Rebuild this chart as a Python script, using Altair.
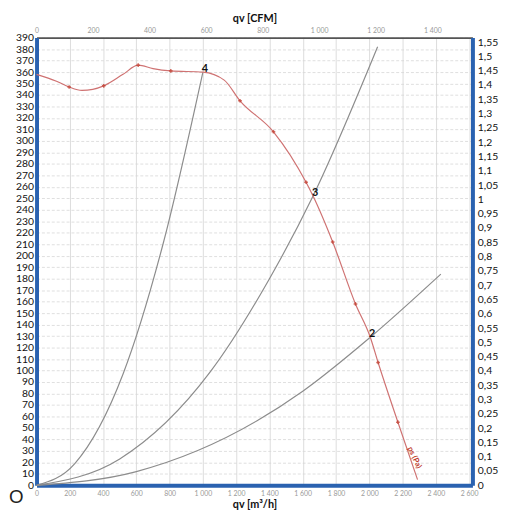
import altair as alt
import pandas as pd

# ---- data ----
# fan curve ps (Pa) vs qv (m3/h)
fan_q = [0, 120, 196, 273, 404, 520, 611, 700, 807, 1000, 1128, 1223, 1424, 1620, 1662, 1780, 1917, 2006, 2053, 2172, 2290]
fan_p = [358, 352, 347, 344, 348, 358, 366, 363, 361, 360, 353, 335, 308, 264, 252, 212, 158, 129, 107, 55, 5]
# measured markers on the fan curve
mark_q = [196, 404, 611, 807, 1223, 1424, 1620, 1780, 1917, 2053, 2172]
mark_p = [347, 348, 366, 361, 335, 308, 264, 212, 158, 107, 55]
# system curves
sys4_q = [0, 230, 520, 760, 1000]
sys4_p = [0, 19, 97, 210, 360]
sys3_q = [0, 500, 1045, 1400, 1662, 2050]
sys3_p = [0, 23, 99, 180, 252, 382]
sys2_q = [0, 600, 1323, 1600, 2006, 2430]
sys2_p = [0, 12, 56, 82, 129, 184]
# operating points
op_label = ["4", "3", "2"]
op_q = [1000, 1662, 2006]
op_p = [360, 252, 129]
# axes
x_ticks = list(range(0, 2601, 200))
y_ticks = list(range(0, 391, 10))
cfm_ticks = list(range(0, 1401, 200))
inwc_ticks = [round(i * 0.05, 2) for i in range(0, 32)]

X_MAX = 2620
Y_MAX = 390
W, H = 443, 455
BLUE = "#2a62b0"
FONT = "Lato"

fan_df = pd.DataFrame({"q": fan_q, "p": fan_p})
mark_df = pd.DataFrame({"q": mark_q, "p": mark_p})
sys_df = pd.concat([
    pd.DataFrame({"q": sys4_q, "p": sys4_p, "c": "4"}),
    pd.DataFrame({"q": sys3_q, "p": sys3_p, "c": "3"}),
    pd.DataFrame({"q": sys2_q, "p": sys2_p, "c": "2"}),
])
op_df = pd.DataFrame({"label": op_label, "q": op_q, "p": op_p})

xs = alt.Scale(domain=[0, X_MAX], nice=False, zero=False)
ys = alt.Scale(domain=[0, Y_MAX], nice=False, zero=False)

x_axis = alt.Axis(
    orient="bottom", values=x_ticks, title="qv [m³/h]",
    labelExpr="replace(format(datum.value, ','), ',', ' ')",
    labelFontSize=7, labelColor="#9a9a9a", labelPadding=4, labelFlush=False,
    labelOverlap=False,
    ticks=False, domainColor=BLUE, domainWidth=4,
    grid=True, gridColor="#d4d4d4", gridWidth=0.8,
    titleFontSize=11, titleFontWeight="bold", titleColor="#111", titlePadding=3,
    titleFont=FONT, labelFont=FONT)
y_axis = alt.Axis(
    orient="left", values=y_ticks, title=None,
    labelFontSize=10.5, labelColor="#111", labelPadding=3, labelOverlap=False,
    ticks=False, domainColor=BLUE, domainWidth=4, labelFont=FONT,
    grid=True, gridColor="#d6d6d6", gridDash=[3, 2], gridWidth=0.8)

X = alt.X("q:Q", scale=xs, axis=x_axis)
Y = alt.Y("p:Q", scale=ys, axis=y_axis)

sys_lines = alt.Chart(sys_df).mark_line(color="#8c8c8c", strokeWidth=1.2, interpolate="monotone").encode(
    x=X, y=Y, detail="c:N")
fan_line = alt.Chart(fan_df).mark_line(color="#cf7272", strokeWidth=1.2, interpolate="monotone").encode(
    x=X, y=Y)
fan_marks = alt.Chart(mark_df).mark_point(shape="cross", size=14, filled=True, color="#c0392b", opacity=0.75).encode(
    x=X, y=Y)
op_text = alt.Chart(op_df).mark_text(fontSize=11, fontWeight="bold", color="#111", font=FONT, dx=2, dy=-3).encode(
    x=X, y=Y, text="label:N")
ps_label = alt.Chart(pd.DataFrame({"q": [2270], "p": [24], "t": ["ps (Pa)"]})).mark_text(
    fontSize=8, fontWeight="bold", color="#c0392b", angle=65, font=FONT).encode(
    x=X, y=Y, text="t:N")
logo = alt.Chart(pd.DataFrame({"t": ["O"]})).mark_text(fontSize=19, color="#222", align="left").encode(
    x=alt.value(-28), y=alt.value(H + 12), text="t:N")

main = alt.layer(sys_lines, fan_line, fan_marks, op_text, ps_label, logo)

# secondary axes: top CFM, right inWC
sec = alt.Chart(pd.DataFrame({"cfm": [0], "inwc": [0]})).mark_point(opacity=0).encode(
    x=alt.X("cfm:Q", scale=alt.Scale(domain=[0, X_MAX * 0.5886], nice=False, zero=False), axis=alt.Axis(
        orient="top", values=cfm_ticks, title="qv [CFM]",
        labelExpr="replace(format(datum.value, ','), ',', ' ')",
        labelFontSize=7, labelColor="#9a9a9a", labelPadding=4, labelFlush=False,
        labelOverlap=False,
        ticks=False, domainColor="#555", domainWidth=2, grid=False,
        titleFontSize=11, titleFontWeight="bold", titleColor="#111", titlePadding=3,
        titleFont=FONT, labelFont=FONT)),
    y=alt.Y("inwc:Q", scale=alt.Scale(domain=[0, Y_MAX / 249.089], nice=False, zero=False), axis=alt.Axis(
        orient="right", values=inwc_ticks, title=None,
        labelExpr="replace(format(datum.value, '.2~f'), '.', ',')",
        labelFontSize=10.5, labelColor="#111", labelPadding=5, labelFont=FONT,
        labelOverlap=False,
        ticks=False, domainColor=BLUE, domainWidth=4, grid=False)),
)

chart = alt.layer(main, sec).resolve_scale(x="independent", y="independent").properties(
    width=W, height=H,
    autosize=alt.AutoSizeParams(type="none"),
    padding={"left": 29, "top": 26, "right": 28, "bottom": 24},
).configure_view(stroke=None)

chart.save("out.html", embed_options={"renderer": "svg", "actions": False})
